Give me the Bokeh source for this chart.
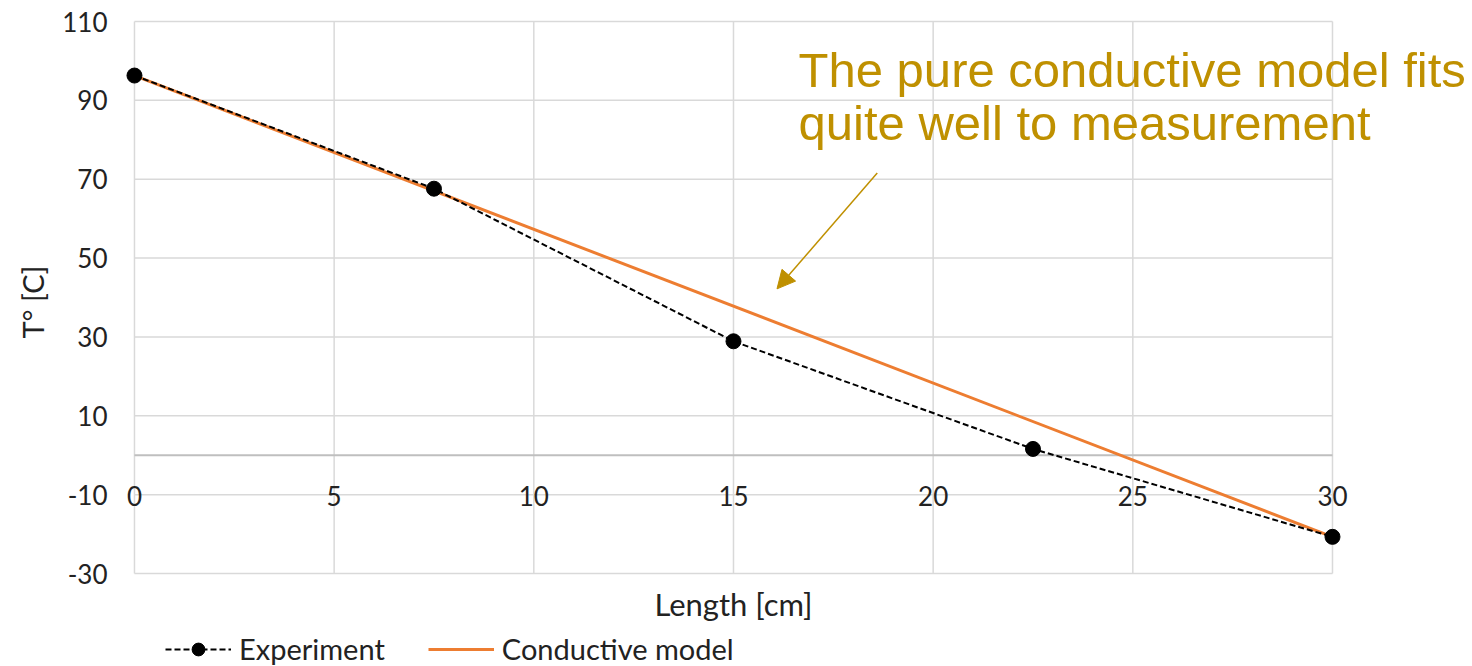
from bokeh.plotting import figure
from bokeh.models import (Range1d, FixedTicker, Legend, LegendItem, Label,
                          LabelSet, ColumnDataSource, Arrow, NormalHead, Title)
from bokeh.core.properties import value
from bokeh.embed import file_html
from bokeh.resources import INLINE

# Temperature profile along the rod
length_cm = [0, 7.5, 15, 22.5, 30]
experiment_temp = [96.3, 67.6, 28.9, 1.6, -20.7]

# Pure conductive model: straight line between the end temperatures
model_length = [0, 30]
model_temp = [96.3, -20.7]

x_ticks = [0, 5, 10, 15, 20, 25, 30]
y_ticks = [-30, -10, 10, 30, 50, 70, 90, 110]

FONT = "Lato"
TEXT_COLOR = "#222222"
GRID_COLOR = "#D9D9D9"
ZERO_COLOR = "#BFBFBF"
NOTE_COLOR = "#BF9000"

# The frame fills everything right of the y axis, so the callout, the x title
# and the legend all sit inside it; the grid itself is limited to the data area.
p = figure(width=1472, height=666, output_backend="svg", toolbar_location=None,
           x_range=Range1d(-0.40, 33.506), y_range=Range1d(-53.58, 115.33),
           x_axis_location=None,
           min_border_left=118, min_border_right=0,
           min_border_top=0, min_border_bottom=0)
p.background_fill_color = "white"
p.border_fill_color = "white"
p.outline_line_color = None
p.grid.visible = False

nx, ny = len(x_ticks), len(y_ticks)
p.segment(x0=x_ticks, y0=[y_ticks[0]] * nx, x1=x_ticks, y1=[y_ticks[-1]] * nx,
          line_color=GRID_COLOR, line_width=1.5)
p.segment(x0=[x_ticks[0]] * ny, y0=y_ticks, x1=[x_ticks[-1]] * ny, y1=y_ticks,
          line_color=GRID_COLOR, line_width=1.5)
p.segment(x0=[x_ticks[0]], y0=[0], x1=[x_ticks[-1]], y1=[0],
          line_color=ZERO_COLOR, line_width=2)

# y axis (tick labels) and its title
p.yaxis.ticker = FixedTicker(ticks=y_ticks)
p.yaxis.major_label_overrides = {t: str(t) for t in y_ticks}
p.yaxis.axis_line_color = None
p.yaxis.major_tick_line_color = None
p.yaxis.minor_tick_line_color = None
p.yaxis.major_tick_out = 0
p.yaxis.major_tick_in = 0
p.yaxis.major_label_standoff = 11
p.yaxis.major_label_text_font = FONT
p.yaxis.major_label_text_font_size = "26px"
p.yaxis.major_label_text_color = TEXT_COLOR

p.add_layout(Title(text="T° [C]", align="left", offset=328, standoff=20,
                   text_font=FONT, text_font_size="29px", text_font_style="normal",
                   text_color=TEXT_COLOR), "left")

# x tick labels run along the zero line, the title sits under the grid
tick_src = ColumnDataSource(dict(x=x_ticks, y=[0] * nx, text=[str(t) for t in x_ticks]))
p.add_layout(LabelSet(x="x", y="y", text="text", source=tick_src,
                      y_offset=-41, text_align="center", text_baseline="middle",
                      text_font=value(FONT), text_font_size=value("26px"),
                      text_color=value(TEXT_COLOR)))
p.add_layout(Label(x=(x_ticks[0] + x_ticks[-1]) / 2, y=y_ticks[0], y_offset=-30,
                   text="Length [cm]", text_align="center", text_baseline="middle",
                   text_font=FONT, text_font_size="31px", text_color=TEXT_COLOR))

# series
model = p.line(model_length, model_temp, line_color="#ED7D31", line_width=3)
exp_line = p.line(length_cm, experiment_temp, line_color="black", line_width=2,
                  line_dash="6 3")
exp_pts = p.scatter(length_cm, experiment_temp, size=15, color="black")

legend = Legend(items=[LegendItem(label="Experiment", renderers=[exp_line, exp_pts]),
                       LegendItem(label="Conductive model", renderers=[model])],
                orientation="horizontal", location=(47, 0),
                glyph_width=66, glyph_height=32, label_standoff=8, spacing=43,
                padding=0, margin=0, border_line_color=None,
                background_fill_alpha=0,
                label_text_font=FONT, label_text_font_size="29px",
                label_text_color=TEXT_COLOR)
p.add_layout(legend)

# callout
for txt, yy in [("The pure conductive model fits", 97.6),
                ("quite well to measurement", 84.2)]:
    p.add_layout(Label(x=16.63, y=yy, text=txt, text_font="Liberation Sans",
                       text_font_size="49px", text_color=NOTE_COLOR,
                       text_baseline="alphabetic"))
p.add_layout(Arrow(x_start=18.60, y_start=71.6, x_end=16.09, y_end=42.2,
                   line_color=NOTE_COLOR, line_width=1.5,
                   end=NormalHead(size=18, fill_color=NOTE_COLOR,
                                  line_color=NOTE_COLOR)))

open("out.html", "w").write(file_html(p, INLINE))
